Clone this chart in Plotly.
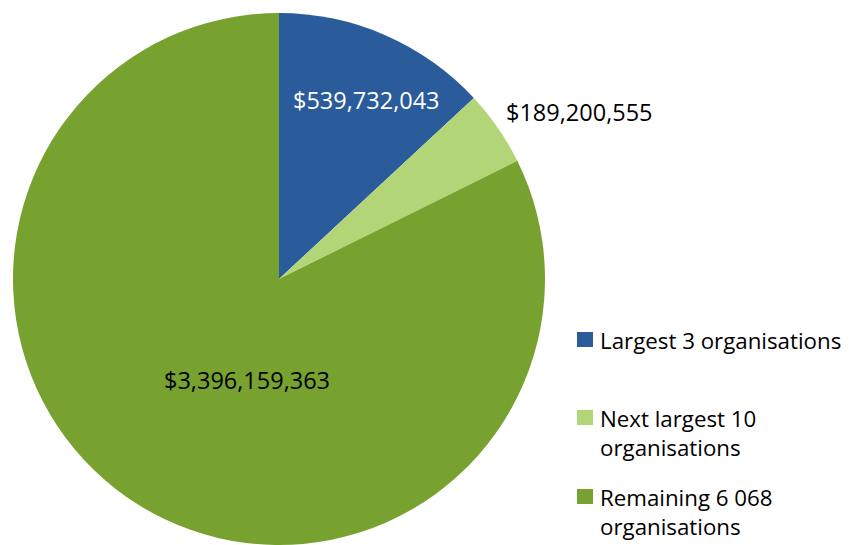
import plotly.graph_objects as go

# Données
categories = ["Largest 3 organisations", "Next largest 10 organisations", "Remaining 6 068 organisations"]
legend_labels = ["Largest 3 organisations", "Next largest 10<br>organisations", "Remaining 6 068<br>organisations"]
amounts = [539732043, 189200555, 3396159363]
colors = ["#2A5B9B", "#B2D677", "#78A22F"]

FONT = "Open Sans"
OFF = 8  # marge par défaut du <body> de la page
W, H = 850 - OFF, 545 - OFF


def px_x(x):
    return (x - OFF) / W


def px_y(y):
    return 1 - (y - OFF) / H


fig = go.Figure()

fig.add_trace(go.Pie(
    labels=categories,
    values=amounts,
    sort=False,
    direction="clockwise",
    rotation=0,
    marker=dict(colors=colors, line=dict(width=0)),
    textinfo="none",
    hoverinfo="label+value",
    showlegend=False,
    domain=dict(x=[px_x(13), px_x(545)], y=[0, px_y(13)]),
))

# Étiquettes de valeurs
label_pos = [(366, 100, "white"), (579, 112, "black"), (247, 380, "black")]
for val, (lx, ly, col) in zip(amounts, label_pos):
    fig.add_annotation(
        x=px_x(lx), y=px_y(ly), xref="paper", yref="paper",
        text=f"${val:,}", showarrow=False,
        font=dict(family=FONT, size=23.5, color=col),
        xanchor="center", yanchor="middle",
    )

# Légende manuelle
legend_y = [340, 418, 497]
for lab, col, ly in zip(legend_labels, colors, legend_y):
    fig.add_shape(
        type="rect", xref="paper", yref="paper",
        x0=px_x(577), x1=px_x(593), y0=px_y(ly - 8), y1=px_y(ly + 7),
        fillcolor=col, line=dict(width=0),
    )
    fig.add_annotation(
        x=px_x(598), y=px_y(ly - 17), xref="paper", yref="paper",
        text=lab, showarrow=False, align="left",
        font=dict(family=FONT, size=22.3, color="black"),
        xanchor="left", yanchor="top",
    )

fig.update_layout(
    width=W, height=H,
    margin=dict(l=0, r=0, t=0, b=0),
    paper_bgcolor="white",
    plot_bgcolor="white",
)

fig.write_html("out.html")
